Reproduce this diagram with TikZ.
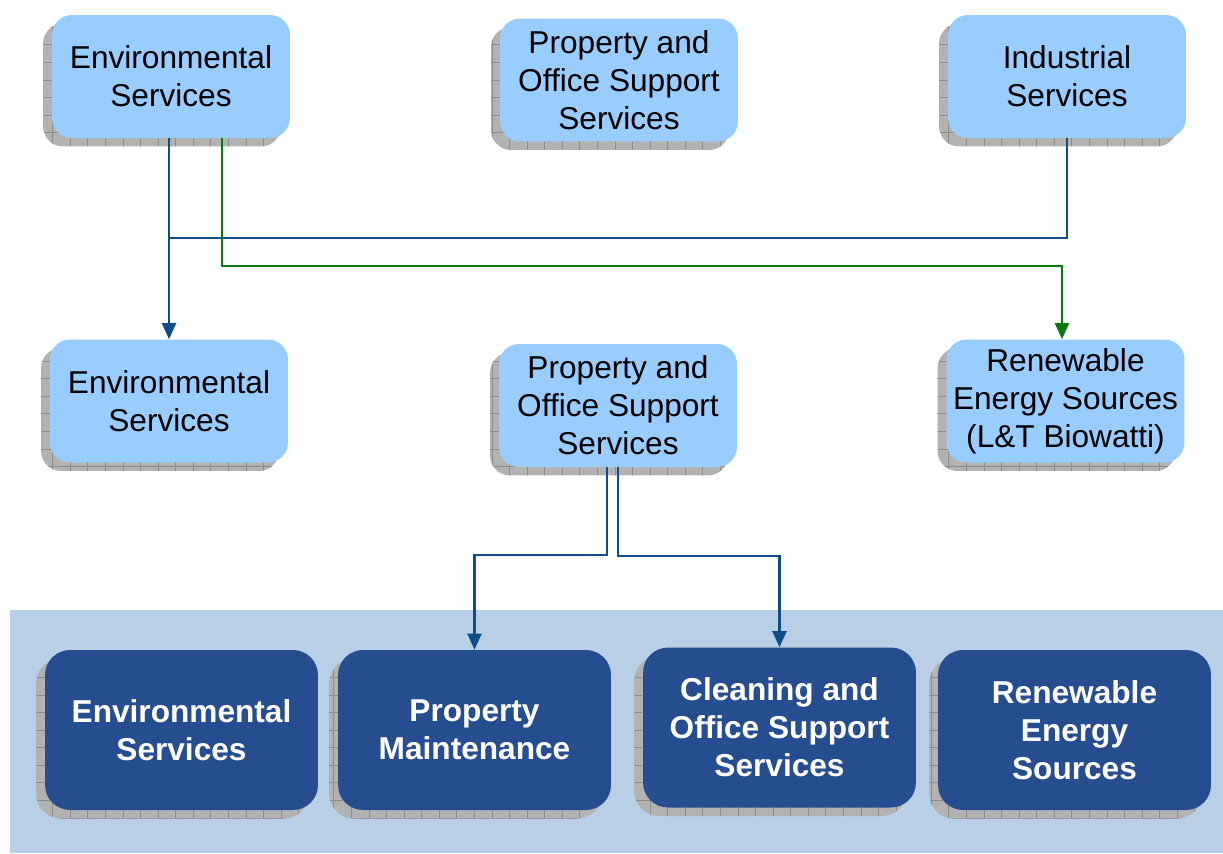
\documentclass[tikz,border=0pt]{standalone}
\usepackage{fontspec}
\setmainfont{Liberation Sans}
\usetikzlibrary{shadows,arrows.meta,patterns.meta}
\definecolor{boxblue}{HTML}{99CCFF}
\definecolor{segblue}{HTML}{264D8F}
\definecolor{bandblue}{HTML}{B9CFE5}
\definecolor{linkblue}{HTML}{0F4C8A}
\definecolor{linkgreen}{HTML}{0B7A0B}
\tikzset{
	grid shadow/.style = {general shadow={shadow xshift=-0.18cm, shadow yshift=-0.17cm,
		fill=black!30, postaction={pattern={Hatch[distance=10pt,line width=0.4pt]}, pattern color=black!45}}},
	unit/.style     = {rounded corners=0.4cm, fill=boxblue, minimum width=4.76cm,
		minimum height=2.46cm, align=center, font=\fontsize{18}{21.6}\selectfont, grid shadow},
	segment/.style  = {rounded corners=0.5cm, fill=segblue, text=white, minimum width=5.46cm,
		minimum height=3.2cm, align=center, font=\fontsize{18}{21.6}\selectfont\bfseries, grid shadow},
	bl/.style       = {draw=linkblue, line width=1.2pt}, % blue link
	gl/.style       = {draw=linkgreen, line width=1.2pt} % green link
}

\begin{document}
\begin{tikzpicture}[x=0.02cm, y=-0.02cm, >={Triangle[width=0.28cm,length=0.32cm]}]
	\useasboundingbox (0,0) rectangle (1223,853);
	\fill[bandblue] (10,610) rectangle (1223,853);

	% today
	\draw
	node at (171,76.5)[unit] (et) {Environmental\\Services}
	node at (619,80)[unit] (pt) {Property and\\Office Support\\Services}
	node at (1067,76.5)[unit] (it) {Industrial\\Services};

	% tomorrow
	\draw
	node at (169,401)[unit] (em) {Environmental\\Services}
	node at (618,405.5)[unit] (pm) {Property and\\Office Support\\Services}
	node at (1065.5,401)[unit] (rm) {Renewable\\Energy Sources\\(L\&T Biowatti)};

	% segments
	\draw
	node at (181.5,730)[segment] (es) {Environmental\\Services}
	node at (474.5,730)[segment] (ms) {Property\\Maintenance}
	node at (779.5,727.5)[segment] (cs) {Cleaning and\\Office Support\\Services}
	node at (1074.5,730)[segment] (rs) {Renewable\\Energy\\Sources};

	\draw[bl,->] (et.south -| em.north) -- (em.north);
	\draw[bl] (et.south -| em.north) ++(0,-2cm) -| (it.south);
	\draw[gl,->] ([xshift=1.02cm]et.south) -- ++(0,-2.56cm) -| ([xshift=-0.07cm]rm.north);
	\draw[bl,->] ([xshift=-0.22cm]pm.south) -- ++(0,-1.76cm) -| (ms.north);
	\draw[bl,->] (pm.south) -- ++(0,-1.78cm) -| (cs.north);
\end{tikzpicture}
\end{document}
